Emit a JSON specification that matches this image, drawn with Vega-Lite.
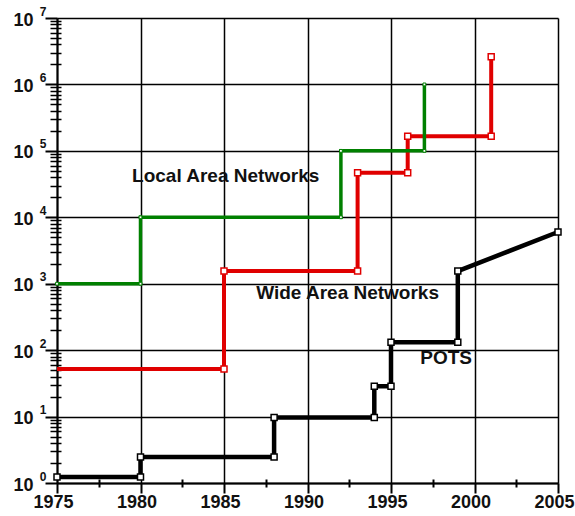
{
  "$schema": "https://vega.github.io/schema/vega-lite/v6.json",
  "width": 501,
  "height": 465,
  "autosize": {"type": "none"},
  "padding": {"left": 57, "top": 18, "right": 17, "bottom": 33},
  "background": "white",
  "config": {
    "view": {"stroke": null},
    "font": "Liberation Sans"
  },
  "datasets": {
    "lines": [
      {"series": "POTS", "year": 1975, "value": 1.23, "ord": 1},
      {"series": "POTS", "year": 1980, "value": 1.23, "ord": 2},
      {"series": "POTS", "year": 1980, "value": 2.47, "ord": 3},
      {"series": "POTS", "year": 1988, "value": 2.47, "ord": 4},
      {"series": "POTS", "year": 1988, "value": 9.7, "ord": 5},
      {"series": "POTS", "year": 1994, "value": 9.7, "ord": 6},
      {"series": "POTS", "year": 1994, "value": 28.5, "ord": 7},
      {"series": "POTS", "year": 1995, "value": 28.5, "ord": 8},
      {"series": "POTS", "year": 1995, "value": 132, "ord": 9},
      {"series": "POTS", "year": 1999, "value": 132, "ord": 10},
      {"series": "POTS", "year": 1999, "value": 1550, "ord": 11},
      {"series": "POTS", "year": 2005, "value": 6000, "ord": 12},
      {"series": "WAN", "year": 1975, "value": 52, "ord": 1},
      {"series": "WAN", "year": 1985, "value": 52, "ord": 2},
      {"series": "WAN", "year": 1985, "value": 1550, "ord": 3},
      {"series": "WAN", "year": 1993, "value": 1550, "ord": 4},
      {"series": "WAN", "year": 1993, "value": 47000, "ord": 5},
      {"series": "WAN", "year": 1996, "value": 47000, "ord": 6},
      {"series": "WAN", "year": 1996, "value": 166000, "ord": 7},
      {"series": "WAN", "year": 2001, "value": 166000, "ord": 8},
      {"series": "WAN", "year": 2001, "value": 2600000, "ord": 9},
      {"series": "LAN", "year": 1975, "value": 1000, "ord": 1},
      {"series": "LAN", "year": 1980, "value": 1000, "ord": 2},
      {"series": "LAN", "year": 1980, "value": 10000, "ord": 3},
      {"series": "LAN", "year": 1992, "value": 10000, "ord": 4},
      {"series": "LAN", "year": 1992, "value": 100000, "ord": 5},
      {"series": "LAN", "year": 1997, "value": 100000, "ord": 6},
      {"series": "LAN", "year": 1997, "value": 1000000, "ord": 7}
    ],
    "labels": [
      {"label": "Local Area Networks", "year": 1985.1, "value": 42000},
      {"label": "Wide Area Networks", "year": 1992.4, "value": 725},
      {"label": "POTS", "year": 1998.3, "value": 76}
    ]
  },
  "layer": [
    {
      "data": {"name": "lines"},
      "mark": {"type": "line", "strokeJoin": "miter", "strokeCap": "butt"},
      "encoding": {
        "x": {
          "field": "year", "type": "quantitative",
          "scale": {"domain": [1975, 2005], "nice": false, "zero": false},
          "axis": {
            "orient": "bottom", "title": null,
            "values": [1975, 1980, 1985, 1990, 1995, 2000, 2005],
            "format": "d",
            "grid": true, "gridColor": "black", "gridOpacity": 1, "gridWidth": 1.5,
            "domain": true, "domainColor": "black", "domainWidth": 2,
            "ticks": true, "tickColor": "black", "tickWidth": 2, "tickSize": 10,
            "labelFontSize": 18, "labelFontWeight": "bold", "labelColor": "#111111", "labelPadding": 0,
            "labelOffset": -4, "labelFlush": false, "labelOverlap": false
          }
        },
        "y": {
          "field": "value", "type": "quantitative",
          "scale": {"type": "log", "domain": [1, 10000000], "nice": false},
          "axis": {
            "orient": "left", "title": null,
            "values": [1, 10, 100, 1000, 10000, 100000, 1000000, 10000000],
            "labelExpr": "'10'",
            "grid": true, "gridColor": "black", "gridOpacity": 1, "gridWidth": 1.5,
            "domain": true, "domainColor": "black", "domainWidth": 2,
            "ticks": true, "tickColor": "black", "tickWidth": 2, "tickSize": 12,
            "labelFontSize": 18, "labelFontWeight": "bold", "labelColor": "#111111", "labelPadding": 12,
            "labelOffset": 2, "labelFlush": false, "labelOverlap": false
          }
        },
        "order": {"field": "ord", "type": "quantitative"},
        "color": {
          "field": "series", "type": "nominal", "legend": null,
          "scale": {"domain": ["LAN", "WAN", "POTS"], "range": ["#008000", "#e00000", "#000000"]}
        },
        "strokeWidth": {
          "field": "series", "type": "nominal", "legend": null,
          "scale": {"domain": ["LAN", "WAN", "POTS"], "range": [3.5, 4.5, 5]}
        }
      }
    },
    {
      "data": {"name": "lines"},
      "transform": [{"filter": "datum.series !== 'LAN' && (datum.series !== 'WAN' || datum.year !== 1975)"}],
      "mark": {"type": "point", "shape": "square", "filled": false, "fill": "white", "fillOpacity": 1, "size": 36, "strokeWidth": 1.5, "opacity": 1},
      "encoding": {
        "x": {
          "field": "year", "type": "quantitative",
          "axis": {
            "orient": "bottom", "title": null, "labels": false, "grid": false, "domain": false,
            "values": [1977.5, 1982.5, 1987.5, 1992.5, 1997.5, 2002.5],
            "tickColor": "black", "tickWidth": 2, "tickSize": 4
          }
        },
        "y": {
          "field": "value", "type": "quantitative",
          "axis": {
            "orient": "left", "title": null, "labels": false, "grid": false, "domain": false,
            "values": [2,3,4,5,6,7,8,9,20,30,40,50,60,70,80,90,200,300,400,500,600,700,800,900,2000,3000,4000,5000,6000,7000,8000,9000,20000,30000,40000,50000,60000,70000,80000,90000,200000,300000,400000,500000,600000,700000,800000,900000,2000000,3000000,4000000,5000000,6000000,7000000,8000000,9000000],
            "tickColor": "black", "tickWidth": 1.5, "tickSize": 7
          }
        },
        "stroke": {
          "field": "series", "type": "nominal", "legend": null,
          "scale": {"domain": ["LAN", "WAN", "POTS"], "range": ["#008000", "#e00000", "#000000"]}
        }
      }
    },
    {
      "data": {"name": "lines"},
      "transform": [{"filter": "datum.series === 'LAN'"}],
      "mark": {"type": "point", "shape": "square", "filled": false, "fill": "white", "fillOpacity": 1, "size": 8, "strokeWidth": 1, "opacity": 1},
      "encoding": {
        "x": {"field": "year", "type": "quantitative", "axis": null},
        "y": {
          "field": "value", "type": "quantitative",
          "axis": {
            "orient": "left", "title": null, "grid": false, "domain": false,
            "ticks": false, "tickSize": 0,
            "values": [1, 10, 100, 1000, 10000, 100000, 1000000, 10000000],
            "labelExpr": "'' + round(log(datum.value)/LN10)",
            "labelFontSize": 12, "labelFontWeight": "bold", "labelColor": "#111111",
            "labelPadding": 11, "labelOffset": -7, "labelFlush": false, "labelOverlap": false
          }
        },
        "stroke": {
          "field": "series", "type": "nominal", "legend": null,
          "scale": {"domain": ["LAN", "WAN", "POTS"], "range": ["#008000", "#e00000", "#000000"]}
        }
      }
    },
    {
      "data": {"name": "labels"},
      "mark": {"type": "text", "fontSize": 19, "fontWeight": "bold", "color": "#111111", "align": "center", "baseline": "middle"},
      "encoding": {
        "x": {
          "field": "year", "type": "quantitative",
          "axis": {
            "orient": "bottom", "title": null, "labels": false, "grid": false, "domain": false,
            "values": [1977.5, 1982.5, 1987.5, 1992.5, 1997.5, 2002.5],
            "tickColor": "black", "tickWidth": 2, "tickSize": -4
          }
        },
        "y": {
          "field": "value", "type": "quantitative",
          "axis": {
            "orient": "left", "title": null, "labels": false, "grid": false, "domain": false,
            "values": [2,3,4,5,6,7,8,9,20,30,40,50,60,70,80,90,200,300,400,500,600,700,800,900,2000,3000,4000,5000,6000,7000,8000,9000,20000,30000,40000,50000,60000,70000,80000,90000,200000,300000,400000,500000,600000,700000,800000,900000,2000000,3000000,4000000,5000000,6000000,7000000,8000000,9000000],
            "tickColor": "black", "tickWidth": 1.5, "tickSize": -4
          }
        },
        "text": {"field": "label"}
      }
    }
  ],
  "resolve": {"axis": {"x": "independent", "y": "independent"}}
}
